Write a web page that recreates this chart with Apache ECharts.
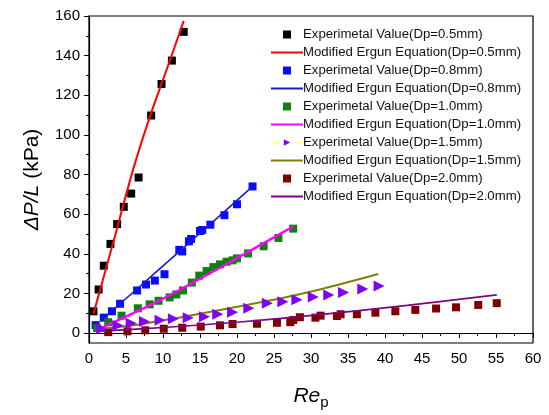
<!DOCTYPE html>
<html>
<head>
<meta charset="utf-8">
<script src="https://cdn.jsdelivr.net/npm/echarts@6/dist/echarts.min.js"></script>
<style>
  html, body { margin: 0; padding: 0; background: #fff; }
  #chart { width: 549px; height: 415px; }
</style>
</head>
<body>
<div id="chart"></div>
<script>
// measured points, Re_p vs dP/L (kPa)
const expRe05 = [0.6, 1.3, 2.0, 2.9, 3.8, 4.7, 5.7, 6.7, 8.4, 9.8, 11.2, 12.8]
const expDp05 = [11, 22, 34, 45, 55, 63.7, 70.4, 78.5, 109.8, 125.7, 137.5, 152]
const modRe05 = [0.6, 3.0, 6.0, 8.3, 10.5, 12.8]
const modDp05 = [9.7, 42, 83, 110, 133, 157.5]

const expRe08 = [0.9, 2.0, 3.1, 4.2, 6.5, 7.7, 8.9, 10.2, 12.2, 12.6, 13.5, 13.8, 15.0, 15.3, 16.4, 18.3, 20.0, 22.1]
const expDp08 = [4, 7.8, 11, 14.8, 21.5, 24.5, 26.5, 29.7, 42, 41.2, 46.3, 47.5, 51.5, 52, 54.7, 59.5, 65, 74]
const modRe08 = [1.5, 6.4, 12.0, 17.0, 22.1]
const modDp08 = [6, 22, 40.5, 57, 74]

const expRe10 = [1.1, 2.6, 4.4, 6.6, 8.2, 9.4, 10.9, 11.8, 12.7, 13.9, 14.9, 15.9, 16.8, 17.7, 18.6, 19.4, 20.0, 21.5, 23.6, 25.6, 27.6]
const expDp10 = [2.5, 5.5, 8.8, 12.5, 14.5, 16.3, 18, 19.5, 21.5, 25.5, 29, 31.3, 33.3, 34.7, 36, 36.7, 37.7, 40.2, 43.8, 48, 52.7]
const modRe10 = [1.4, 9.3, 17.7, 27.6]
const modDp10 = [2.2, 16, 33, 53.8]

const expRe15 = [1.7, 3.9, 5.7, 7.5, 9.6, 11.4, 13.4, 15.6, 17.4, 19.4, 21.6, 24.1, 26.2, 28.1, 30.3, 32.4, 34.4, 37.0, 39.2]
const expDp15 = [2.2, 3.8, 5, 5.8, 6.5, 7.2, 7.8, 8.2, 9.5, 10.5, 12.5, 15, 15.8, 16.8, 18.2, 19.2, 20.5, 22.2, 23.7]
const modRe15 = [1.6, 6, 15, 25.8, 31.2, 39.1]
const modDp15 = [2.3, 4, 9.8, 17.5, 22, 29.8]

const expRe20 = [2.6, 5.2, 7.6, 10.1, 12.6, 15.1, 17.7, 19.4, 22.7, 25.4, 27.2, 27.6, 28.5, 30.6, 31.3, 33.5, 34.0, 36.2, 38.7, 41.4, 44.1, 46.9, 49.6, 52.6, 55.1]
const expDp20 = [0.5, 0.9, 1.4, 2.2, 2.7, 3.3, 3.9, 4.6, 4.7, 5.2, 5.5, 6.6, 8, 7.8, 8.8, 8.6, 9.5, 9.5, 10.3, 11, 11.7, 12.4, 13, 14.2, 15.1]
const modRe20 = [1.7, 10, 20, 31.2, 43, 55.1]
const modDp20 = [1, 2.8, 5.5, 9.3, 14, 19.3]

const yMajor = [0, 20, 40, 60, 80, 100, 120, 140, 160]
const yMinor = [10, 30, 50, 70, 90, 110, 130, 150]

const FONT = 'Liberation Sans'
// legend icons: small square for the measured values, thin bar for the equation lines
const SQUARE_ICON = 'path://M0,0h10v10h-10z'
const LINE_ICON = 'path://M0,0h32v2h-32z'

function pairs(xs, ys) {
  return xs.map((x, i) => [x, ys[i]])
}

function expSeries(name, xs, ys, color) {
  return {
    name: name,
    type: 'scatter',
    symbol: 'rect',
    symbolSize: 8,
    itemStyle: { color: color, opacity: 1 },
    data: pairs(xs, ys)
  }
}

function modSeries(name, xs, ys, color, width) {
  return {
    name: name,
    type: 'line',
    smooth: 0.3,
    showSymbol: false,
    symbol: 'none',
    lineStyle: { color: color, width: width },
    itemStyle: { color: color },
    data: pairs(xs, ys),
    z: 3
  }
}

const series = [
  expSeries('Experimetal Value(Dp=0.5mm)', expRe05, expDp05, '#000000'),
  modSeries('Modified Ergun Equation(Dp=0.5mm)', modRe05, modDp05, '#ff0000', 2),
  expSeries('Experimetal Value(Dp=0.8mm)', expRe08, expDp08, '#0a0aff'),
  modSeries('Modified Ergun Equation(Dp=0.8mm)', modRe08, modDp08, '#1a1acc', 1.6),
  expSeries('Experimetal Value(Dp=1.0mm)', expRe10, expDp10, '#108010'),
  modSeries('Modified Ergun Equation(Dp=1.0mm)', modRe10, modDp10, '#ff00ff', 2.4),
  {
    name: 'Experimetal Value(Dp=1.5mm)',
    type: 'line',
    symbol: 'triangle',
    symbolRotate: -90,
    symbolSize: 11,
    itemStyle: { color: '#8000ff' },
    lineStyle: { color: '#ffff90', width: 1, type: 'dashed' },
    data: pairs(expRe15, expDp15)
  },
  modSeries('Modified Ergun Equation(Dp=1.5mm)', modRe15, modDp15, '#808000', 2),
  expSeries('Experimetal Value(Dp=2.0mm)', expRe20, expDp20, '#800000'),
  modSeries('Modified Ergun Equation(Dp=2.0mm)', modRe20, modDp20, '#800080', 1.6)
]

const legendData = series.map((s) => {
  if (s.type === 'scatter') return { name: s.name, icon: SQUARE_ICON }
  if (s.symbol === 'none') return { name: s.name, icon: LINE_ICON }
  return { name: s.name }
})

const chart = echarts.init(document.getElementById('chart'))
chart.setOption({
  animation: false,
  textStyle: { fontFamily: FONT },
  grid: {
    left: 89, right: 16, top: 16, bottom: 69,
    show: true, borderColor: '#000', borderWidth: 1.2
  },
  legend: {
    orient: 'vertical',
    left: 265,
    top: 23,
    itemWidth: 32,
    itemHeight: 8,
    itemGap: 5,
    symbolKeepAspect: true,
    data: legendData,
    textStyle: { fontFamily: FONT, fontSize: 13.2, color: '#111', padding: [0, 0, 0, -5] }
  },
  xAxis: {
    type: 'value',
    min: 0,
    max: 60,
    interval: 5,
    name: '{i|Re}{s|p}',
    nameLocation: 'middle',
    nameGap: 40,
    nameTextStyle: {
      rich: {
        i: { fontFamily: FONT, fontSize: 21, fontStyle: 'italic', color: '#000' },
        s: { fontFamily: FONT, fontSize: 15, color: '#000', padding: [12, 0, 0, 0] }
      }
    },
    axisLine: { lineStyle: { color: '#000', width: 1.2 } },
    axisTick: { inside: false, length: 5, lineStyle: { color: '#000' } },
    minorTick: { show: true, splitNumber: 2, length: 3, lineStyle: { color: '#000' } },
    axisLabel: { fontSize: 15, color: '#000', margin: 8, fontFamily: FONT },
    splitLine: { show: false }
  },
  yAxis: [
    {
      type: 'value',
      min: -5,
      max: 160,
      name: '{i|\u0394P/L} (kPa)',
      nameLocation: 'middle',
      nameRotate: 90,
      nameGap: 46,
      nameTextStyle: {
        fontSize: 21,
        color: '#000',
        rich: {
          i: { fontFamily: FONT, fontSize: 21, fontStyle: 'italic', color: '#000' }
        }
      },
      axisLine: { lineStyle: { color: '#000', width: 1.2 } },
      axisTick: { inside: false, length: 5, customValues: yMajor, lineStyle: { color: '#000' } },
      axisLabel: { fontSize: 15, color: '#000', margin: 9, customValues: yMajor, fontFamily: FONT },
      splitLine: { show: false }
    },
    {
      type: 'value',
      min: -5,
      max: 160,
      position: 'left',
      axisLine: { show: false },
      axisTick: { show: true, inside: false, length: 3, customValues: yMinor, lineStyle: { color: '#000' } },
      axisLabel: { show: false },
      splitLine: { show: false }
    }
  ],
  series: series
})
</script>
</body>
</html>
